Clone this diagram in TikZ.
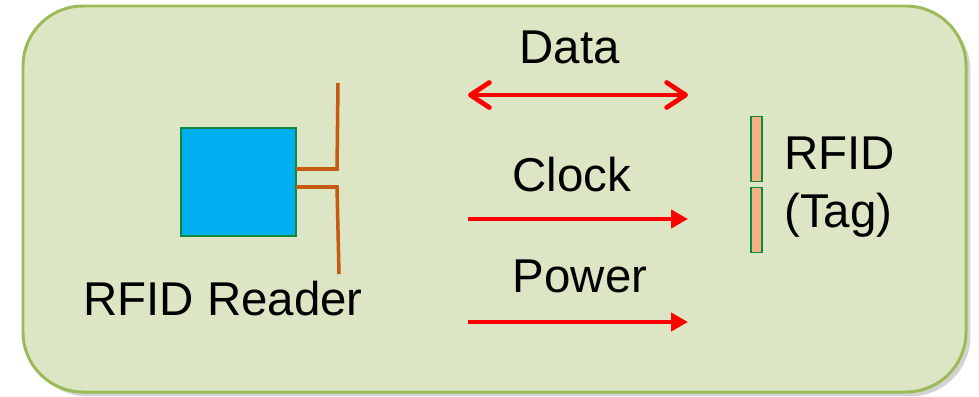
\documentclass[tikz,border=0pt]{standalone}
\usepackage{fontspec}
\setmainfont{Liberation Sans}
\usetikzlibrary{arrows.meta,shadows}
\definecolor{panelfill}{HTML}{DDE6C4}
\definecolor{paneledge}{HTML}{9BBB59}
\definecolor{readerblue}{HTML}{00B0F0}
\definecolor{edgegreen}{HTML}{10873D}
\definecolor{antbrown}{HTML}{C55A11}
\definecolor{tagfill}{HTML}{F4B183}

\begin{document}
\begin{tikzpicture}[x=0.02cm,y=-0.02cm,>={Triangle[length=0.34cm,width=0.36cm]},panel/.style={draw=paneledge, line width=1.7pt, fill=panelfill, rounded corners=1.2cm, drop shadow={shadow xshift=2.5pt, shadow yshift=-2.5pt, opacity=0.35}},reader/.style={draw=edgegreen, line width=1.2pt, fill=readerblue, inner sep=0pt, minimum width=2.3cm, minimum height=2.16cm},tagbar/.style={draw=edgegreen, line width=1.1pt, fill=tagfill, inner sep=0pt, minimum width=0.22cm, minimum height=1.3cm},antenna/.style={draw=antbrown, line width=2pt},link/.style={red, line width=2.7pt},label/.style={font=\fontsize{27}{32.5}\selectfont, inner sep=0pt, anchor=base}]
\useasboundingbox (0,0) rectangle (979,396);
\draw[panel] (23,6) rectangle (966,392);
\node[reader] (reader) at (238.5,182) {};
\draw[antenna] (296,169) -- (337,169) -- (338,83); \draw[antenna] (296,187) -- (337,187) -- (339,274);
\node[tagbar] (tagtop) at (756.5,149) {}; \node[tagbar] (tagbottom) at (756.5,220) {};
\coordinate (dataL) at (468,95); \coordinate (dataR) at (688,95);
\coordinate (clockL) at (468,219); \coordinate (clockR) at (688,219);
\coordinate (powerL) at (468,322); \coordinate (powerR) at (688,322);
\draw[link, {Straight Barb[length=0.38cm,width=0.5cm,round]}-{Straight Barb[length=0.38cm,width=0.5cm,round]}] (dataL) -- (dataR);
\draw[link, ->] (clockL) -- (clockR); \draw[link, ->] (powerL) -- (powerR);
\node[label] (data) at (569.5,63) {Data};
\node[label] (clock) at (572,191) {Clock};
\node[label] (power) at (580,292) {Power};
\node[label] (readername) at (223,315) {RFID Reader};
\node[label, anchor=base west, align=left] (tagname) at (784,227) {RFID\\(Tag)};
\end{tikzpicture}
\end{document}
